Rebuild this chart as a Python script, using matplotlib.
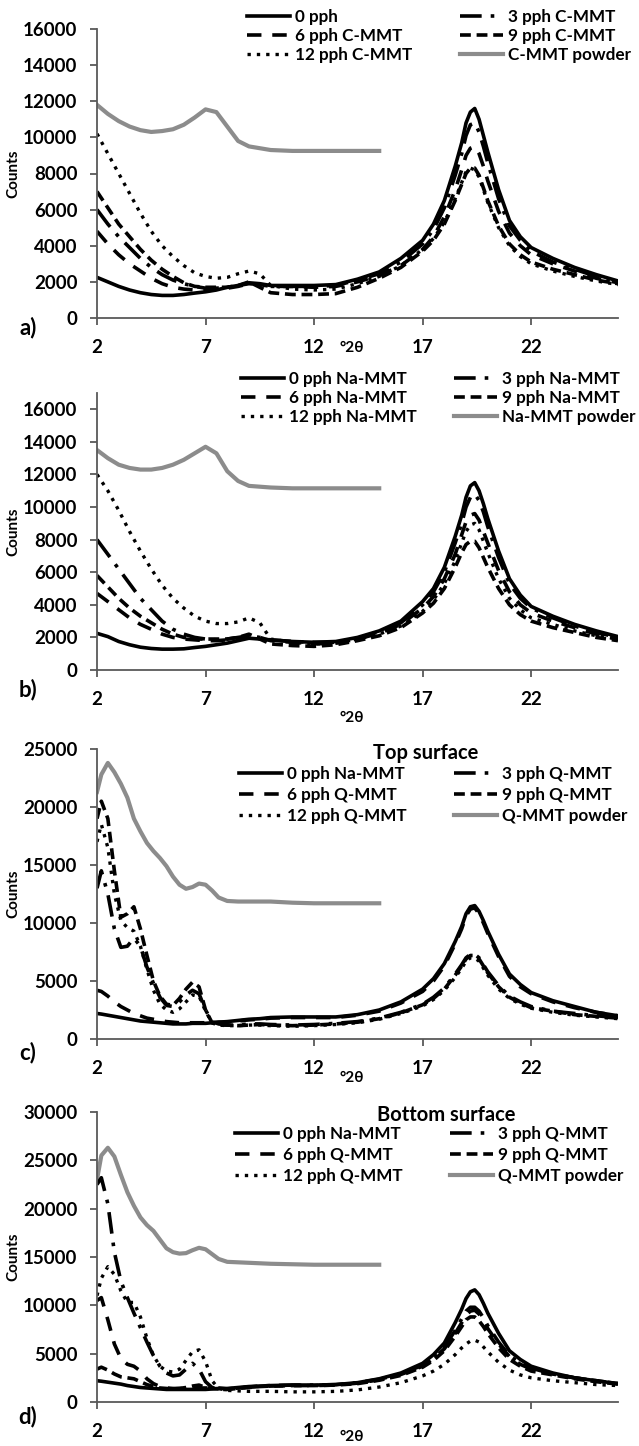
import matplotlib
matplotlib.use("Agg")
import matplotlib.pyplot as plt

plt.rcParams['font.family'] = ['Lato', 'DejaVu Sans']
plt.rcParams['font.weight'] = 'bold'

W, H = 639, 1446

# 2theta grids
XL_AB = [2, 2.5, 3, 3.5, 4, 4.5, 5, 5.5, 6, 6.5, 7, 7.5]
XL_CD = [2, 2.2, 2.5, 2.8, 3.1, 3.4, 3.7, 4.0, 4.3, 4.6, 4.9, 5.2, 5.5, 5.8, 6.1, 6.4, 6.7, 7.0, 7.3, 7.6]
XH = [8, 8.5, 9, 9.5, 10, 11, 12, 13, 14, 15, 16, 17, 17.5, 18, 18.5, 18.8, 19, 19.2, 19.4, 19.6,
      19.8, 20, 20.5, 21, 21.5, 22, 23, 24, 25, 26]
XH_POWDER = XH[:10]

# a) C-MMT
a0_lo = [2250, 2000, 1750, 1550, 1400, 1300, 1250, 1250, 1300, 1380, 1450, 1550]
a3_lo = [6000, 5200, 4500, 3900, 3300, 2800, 2400, 2100, 1900, 1750, 1650, 1650]
a6_lo = [4800, 4100, 3500, 3000, 2600, 2200, 1900, 1700, 1600, 1550, 1550, 1600]
a9_lo = [7000, 6100, 5200, 4500, 3800, 3200, 2700, 2300, 1950, 1750, 1700, 1700]
a12_lo = [10200, 9100, 8000, 6900, 5800, 4800, 4000, 3400, 2900, 2500, 2300, 2200]
a0_hi = [1700, 1800, 1950, 1900, 1800, 1800, 1800, 1850, 2150, 2550, 3300, 4300, 5200, 6500, 8400, 9700,
         10800, 11400, 11600, 11000, 10100, 9200, 7100, 5400, 4500, 3900, 3300, 2800, 2400, 2050]
a3_hi = [1700, 1800, 1900, 1850, 1750, 1750, 1750, 1800, 2100, 2450, 3100, 4100, 4900, 6100, 7900, 9100,
         10100, 10700, 10800, 10300, 9500, 8600, 6600, 5100, 4300, 3700, 3100, 2700, 2300, 2000]
a6_hi = [1650, 1750, 1900, 1850, 1750, 1750, 1700, 1750, 2000, 2350, 2900, 3800, 4500, 5600, 7100, 8200,
         9000, 9400, 9500, 9100, 8400, 7600, 5900, 4700, 4000, 3500, 3000, 2600, 2200, 1950]
a9_hi = [1700, 1800, 2000, 1700, 1400, 1300, 1300, 1350, 1700, 2200, 2800, 3700, 4300, 5200, 6500, 7400,
         8000, 8300, 8300, 7900, 7200, 6500, 5100, 4100, 3500, 3100, 2700, 2400, 2100, 1900]
a12_hi = [2250, 2450, 2600, 2450, 1800, 1600, 1550, 1600, 1900, 2300, 2900, 3800, 4400, 5300, 6600, 7500,
          8100, 8300, 8200, 7800, 7100, 6400, 5000, 4000, 3400, 3000, 2600, 2300, 2050, 1850]
a_pow_lo = [11800, 11300, 10900, 10600, 10400, 10300, 10350, 10450, 10700, 11100, 11550, 11400]
a_pow_hi = [10600, 9800, 9500, 9400, 9300, 9250, 9250, 9250, 9250, 9250]

# b) Na-MMT
b0_lo = [2250, 2050, 1750, 1550, 1400, 1320, 1280, 1280, 1300, 1380, 1450, 1550]
b3_lo = [8000, 7100, 6200, 5300, 4400, 3700, 3000, 2500, 2200, 2000, 1900, 1850]
b6_lo = [4700, 4200, 3700, 3200, 2800, 2500, 2200, 2000, 1900, 1850, 1800, 1800]
b9_lo = [5800, 5100, 4400, 3800, 3300, 2900, 2500, 2200, 2000, 1900, 1900, 1900]
b12_lo = [12000, 11000, 9800, 8500, 7300, 6200, 5200, 4400, 3800, 3300, 3000, 2850]
b0_hi = [1650, 1800, 1950, 1900, 1850, 1750, 1700, 1750, 2000, 2400, 3000, 4200, 5000, 6300, 8200, 9500,
         10600, 11300, 11500, 11000, 10200, 9300, 7300, 5600, 4600, 3900, 3300, 2800, 2400, 2050]
b3_hi = [1900, 2000, 2100, 2000, 1850, 1750, 1700, 1700, 1950, 2350, 2900, 4000, 4800, 6000, 7800, 9000,
         10000, 10600, 10800, 10400, 9700, 8800, 6900, 5300, 4400, 3800, 3200, 2700, 2300, 2000]
b6_hi = [1850, 1950, 2100, 2000, 1800, 1700, 1600, 1650, 1900, 2250, 2800, 3800, 4500, 5600, 7100, 8300,
         9100, 9500, 9600, 9200, 8500, 7800, 6100, 4800, 4000, 3500, 3000, 2600, 2200, 1900]
b9_hi = [1900, 2000, 2200, 1900, 1600, 1500, 1450, 1550, 1800, 2100, 2600, 3500, 4100, 5000, 6300, 7200,
         7700, 7900, 7900, 7500, 6900, 6300, 5000, 4000, 3400, 3000, 2600, 2300, 2000, 1800]
b12_hi = [2850, 2950, 3200, 2900, 1900, 1700, 1600, 1650, 1900, 2200, 2700, 3600, 4300, 5300, 6700, 7800,
          8500, 8900, 9000, 8600, 7900, 7200, 5600, 4400, 3700, 3200, 2800, 2400, 2100, 1900]
b_pow_lo = [13500, 13000, 12600, 12400, 12300, 12300, 12400, 12600, 12900, 13300, 13700, 13300]
b_pow_hi = [12200, 11600, 11300, 11250, 11200, 11150, 11150, 11150, 11150, 11150]

# c) Top surface, Q-MMT
c0_lo = [2200, 2150, 2050, 1950, 1850, 1750, 1650, 1550, 1500, 1450, 1400, 1350, 1300, 1300, 1300, 1350,
         1350, 1350, 1400, 1450]
c3_lo = [13000, 14500, 12500, 9500, 7900, 8000, 8700, 8000, 6200, 4800, 3600, 2900, 2800, 3200, 3800, 4200,
         3900, 2500, 1500, 1300]
c6_lo = [4200, 4100, 3700, 3200, 2800, 2500, 2200, 2000, 1800, 1700, 1600, 1500, 1450, 1400, 1400, 1400,
         1400, 1400, 1400, 1450]
c9_lo = [19000, 20500, 19000, 14500, 10500, 10800, 11400, 9500, 7200, 5000, 3700, 3000, 2900, 3500, 4300,
         4900, 4500, 2500, 1400, 1200]
c12_lo = [17000, 18500, 16500, 12500, 10200, 9600, 9300, 8000, 6000, 4200, 3000, 2500, 2300, 2600, 3200,
          3800, 3700, 2400, 1400, 1200]
c0_hi = [1500, 1600, 1700, 1750, 1850, 1900, 1900, 1900, 2100, 2500, 3200, 4300, 5200, 6500, 8400, 9700,
         10800, 11400, 11500, 11000, 10200, 9300, 7300, 5600, 4700, 4000, 3300, 2800, 2300, 2000]
c3_hi = [1200, 1200, 1300, 1300, 1250, 1200, 1250, 1350, 1500, 1800, 2300, 3000, 3600, 4400, 5600, 6400,
         7000, 7300, 7300, 7000, 6400, 5800, 4600, 3700, 3200, 2800, 2400, 2200, 2000, 1850]
c6_hi = [1450, 1550, 1650, 1700, 1800, 1850, 1850, 1850, 2050, 2400, 3100, 4100, 5000, 6300, 8200, 9500,
         10600, 11200, 11300, 10800, 10000, 9100, 7100, 5400, 4500, 3900, 3200, 2700, 2300, 2000]
c9_hi = [1200, 1150, 1200, 1250, 1200, 1150, 1200, 1300, 1450, 1750, 2250, 2950, 3500, 4300, 5500, 6300,
         6900, 7200, 7200, 6900, 6300, 5700, 4500, 3600, 3100, 2700, 2400, 2100, 1950, 1800]
c12_hi = [1150, 1150, 1200, 1200, 1150, 1100, 1150, 1250, 1400, 1700, 2200, 2850, 3400, 4200, 5300, 6100,
          6700, 7000, 7000, 6700, 6100, 5500, 4300, 3500, 3000, 2650, 2300, 2050, 1900, 1750]
c_pow_lo = [21300, 22800, 23800, 23000, 22000, 20800, 19000, 17900, 16900, 16200, 15600, 14900, 14000,
            13300, 12950, 13100, 13400, 13300, 12800, 12200]
c_pow_hi = [11900, 11850, 11850, 11850, 11850, 11750, 11700, 11700, 11700, 11700]

# d) Bottom surface, Q-MMT
d0_lo = [2200, 2150, 2050, 1950, 1850, 1700, 1600, 1500, 1450, 1400, 1350, 1300, 1300, 1300, 1300, 1300,
         1300, 1300, 1350, 1400]
d3_lo = [22500, 23200, 20500, 15500, 12500, 10800, 9200, 7700, 6200, 4800, 3700, 3000, 2700, 2800, 3400,
         4000, 3400, 2100, 1500, 1300]
d6_lo = [10500, 10800, 8500, 6000, 4500, 3900, 3700, 3200, 2400, 1900, 1600, 1450, 1400, 1400, 1400, 1400,
         1450, 1450, 1450, 1450]
d9_lo = [3400, 3600, 3300, 2900, 2600, 2500, 2400, 2100, 1800, 1600, 1450, 1400, 1350, 1400, 1500, 1650,
         1750, 1500, 1400, 1350]
d12_lo = [11000, 12800, 14000, 13200, 11500, 10300, 10300, 8800, 6600, 4800, 3700, 3200, 3100, 3400, 4300,
          5200, 5400, 4200, 2200, 1400]
d0_hi = [1400, 1500, 1600, 1650, 1700, 1750, 1750, 1800, 2000, 2400, 3000, 4000, 4900, 6100, 8200, 9600,
         10700, 11400, 11600, 11100, 10200, 9200, 7100, 5300, 4400, 3700, 3000, 2500, 2200, 1900]
d3_hi = [1300, 1450, 1550, 1650, 1700, 1750, 1750, 1800, 2000, 2350, 2900, 3800, 4600, 5700, 7400, 8600,
         9400, 9800, 9800, 9400, 8700, 7900, 6200, 4800, 4000, 3500, 2900, 2500, 2200, 1900]
d6_hi = [1350, 1450, 1550, 1600, 1650, 1700, 1700, 1750, 1950, 2300, 2850, 3700, 4500, 5500, 7100, 8200,
         9000, 9400, 9500, 9100, 8400, 7600, 6000, 4700, 3900, 3400, 2900, 2500, 2200, 1900]
d9_hi = [1300, 1400, 1500, 1600, 1650, 1700, 1700, 1750, 1900, 2250, 2750, 3600, 4300, 5300, 6800, 7800,
         8500, 8800, 8800, 8400, 7800, 7100, 5600, 4400, 3700, 3200, 2800, 2400, 2100, 1850]
d12_hi = [1200, 1150, 1100, 1100, 1100, 1050, 1050, 1100, 1250, 1550, 2000, 2700, 3200, 3900, 4900, 5600,
          6000, 6300, 6400, 6200, 5700, 5200, 4100, 3300, 2800, 2500, 2200, 2000, 1800, 1700]
d_pow_lo = [23000, 25500, 26300, 25400, 23500, 21700, 20300, 19100, 18300, 17700, 16800, 15900, 15500,
            15350, 15400, 15700, 15950, 15800, 15300, 14800]
d_pow_hi = [14500, 14450, 14400, 14350, 14300, 14250, 14200, 14200, 14200, 14200]

labels_a = ["0 pph", "3 pph C-MMT", "6 pph C-MMT", "9 pph C-MMT", "12 pph C-MMT", "C-MMT powder"]
labels_b = ["0 pph Na-MMT", "3 pph Na-MMT", "6 pph Na-MMT", "9 pph Na-MMT", "12 pph Na-MMT", "Na-MMT powder"]
labels_q = ["0 pph Na-MMT", "3 pph Q-MMT", "6 pph Q-MMT", "9 pph Q-MMT", "12 pph Q-MMT", "Q-MMT powder"]

styles = [
    dict(color="black", lw=2.6, ls="-"),
    dict(color="black", lw=2.6, ls=(0, (6, 2.5, 1, 2.5))),
    dict(color="black", lw=2.6, ls=(0, (4, 3))),
    dict(color="black", lw=2.6, ls=(0, (3, 1.6))),
    dict(color="black", lw=2.4, ls=(0, (1, 1.8))),
    dict(color="#8c8c8c", lw=3.0, ls="-"),
]

panels = [
    dict(lo=[a0_lo, a3_lo, a6_lo, a9_lo, a12_lo], hi=[a0_hi, a3_hi, a6_hi, a9_hi, a12_hi],
         pw=(a_pow_lo, a_pow_hi), xl=XL_AB, labels=labels_a, box=(29, 318), ymax=16000,
         yt=range(0, 16001, 2000), tag="a)", tag_y=328, xlab_y=348, title=None,
         leg=(247, 9, 2.8, 0.18)),
    dict(lo=[b0_lo, b3_lo, b6_lo, b9_lo, b12_lo], hi=[b0_hi, b3_hi, b6_hi, b9_hi, b12_hi],
         pw=(b_pow_lo, b_pow_hi), xl=XL_AB, labels=labels_b, box=(393, 670), ymax=17000,
         yt=range(0, 16001, 2000), tag="b)", tag_y=690, xlab_y=718, title=None,
         leg=(241, 371, 2.2, 0.18)),
    dict(lo=[c0_lo, c3_lo, c6_lo, c9_lo, c12_lo], hi=[c0_hi, c3_hi, c6_hi, c9_hi, c12_hi],
         pw=(c_pow_lo, c_pow_hi), xl=XL_CD, labels=labels_q, box=(749, 1039), ymax=25000,
         yt=range(0, 25001, 5000), tag="c)", tag_y=1053, xlab_y=1078, title=("Top surface", 426, 753),
         leg=(239, 766, 2.8, 0.3)),
    dict(lo=[d0_lo, d3_lo, d6_lo, d9_lo, d12_lo], hi=[d0_hi, d3_hi, d6_hi, d9_hi, d12_hi],
         pw=(d_pow_lo, d_pow_hi), xl=XL_CD, labels=labels_q, box=(1112, 1402), ymax=30000,
         yt=range(0, 30001, 5000), tag="d)", tag_y=1417, xlab_y=1437, title=("Bottom surface", 446, 1115),
         leg=(235, 1126, 2.8, 0.28)),
]

FS = 13.5
LFS = 12.3
axis_col = "#595959"
left, right = 97, 618

fig = plt.figure(figsize=(W / 100, H / 100), dpi=100)

for p in panels:
    top, bot = p["box"]
    ax = fig.add_axes([left / W, 1 - bot / H, (right - left) / W, (bot - top) / H])
    handles = []
    for k in range(5):
        ln, = ax.plot(p["xl"] + XH, p["lo"][k] + p["hi"][k], label=p["labels"][k], **styles[k])
        handles.append(ln)
    pl, ph = p["pw"]
    ln, = ax.plot(p["xl"] + XH_POWDER, pl + ph, label=p["labels"][5], zorder=1, **styles[5])
    handles.append(ln)

    ax.set_xlim(2, 26)
    ax.set_ylim(0, p["ymax"])
    ax.set_xticks([2, 7, 12, 17, 22])
    ax.set_yticks(list(p["yt"]))
    for s in ["top", "right"]:
        ax.spines[s].set_visible(False)
    for s in ["left", "bottom"]:
        ax.spines[s].set_color(axis_col)
        ax.spines[s].set_linewidth(1.3)
    ax.tick_params(axis="both", colors=axis_col, labelcolor="black", labelsize=FS, length=5, width=1.3)
    ax.tick_params(axis="y", pad=9)
    ax.tick_params(axis="x", pad=10)
    for t in ax.get_xticklabels() + ax.get_yticklabels():
        t.set_fontweight("bold")

    ax.set_ylabel("Counts", fontsize=11, fontweight="bold")
    ax.yaxis.set_label_coords((20 - left) / (right - left), 0.5)

    fig.text(28 / W, 1 - p["tag_y"] / H, p["tag"], fontsize=16, fontweight="bold", ha="center", va="center")
    fig.text(352 / W, 1 - p["xlab_y"] / H, "°2θ", fontsize=11, fontweight="bold", ha="center", va="center")
    if p["title"]:
        txt, tx, ty = p["title"]
        fig.text(tx / W, 1 - ty / H, txt, fontsize=14.5, fontweight="bold", ha="center", va="center")

    order = [0, 2, 4, 1, 3, 5]
    lx, ly, cs, lsp = p["leg"]
    ax.legend([handles[i] for i in order], [p["labels"][i] for i in order], ncol=2,
              loc="upper left", bbox_to_anchor=(lx / W, 1 - ly / H), bbox_transform=fig.transFigure,
              frameon=False, handlelength=2.5, handletextpad=0.3, columnspacing=cs,
              labelspacing=lsp, borderpad=0, borderaxespad=0,
              prop=dict(weight="bold", size=LFS))

fig.savefig("out.png", dpi=100)
